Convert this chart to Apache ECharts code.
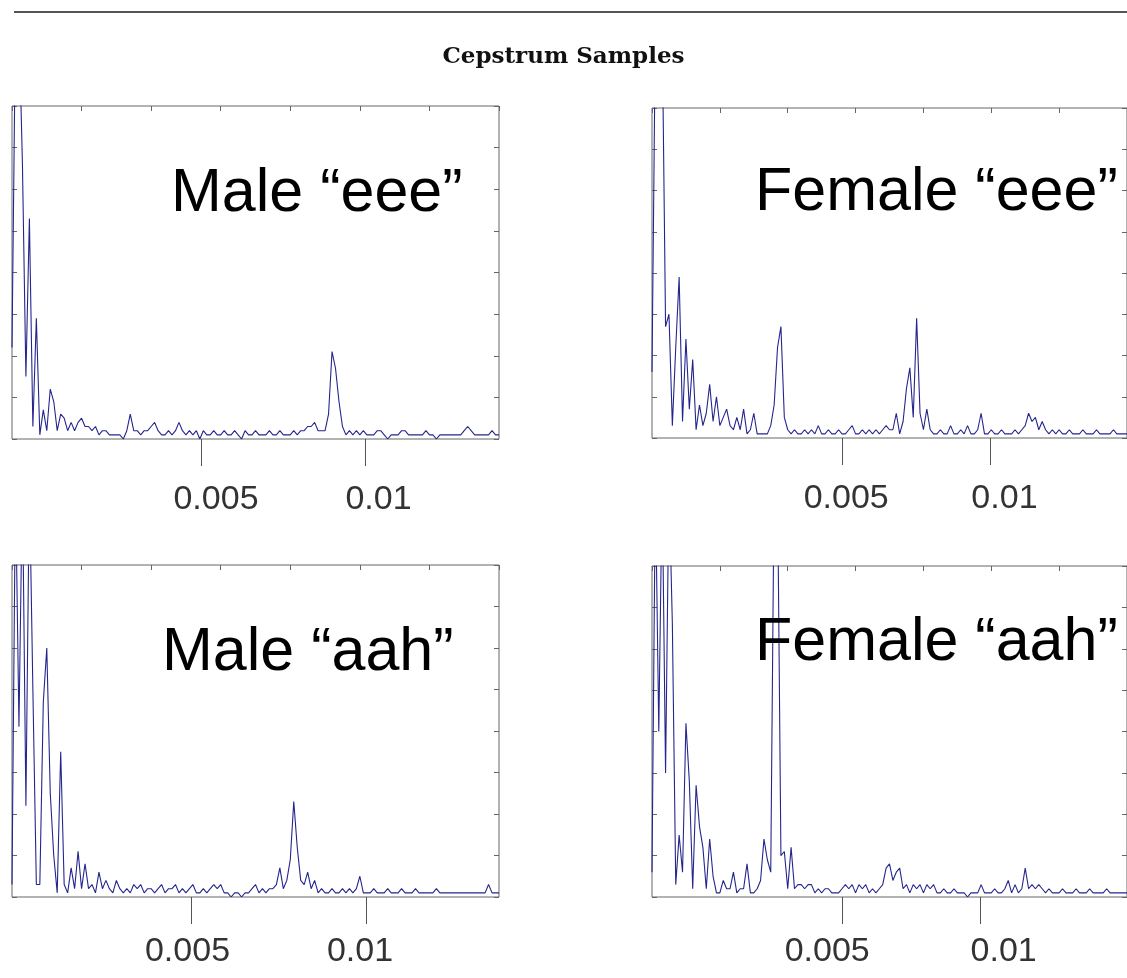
<!DOCTYPE html>
<html>
<head>
<meta charset="utf-8">
<script src="https://cdn.jsdelivr.net/npm/echarts@6/dist/echarts.min.js"></script>
<style>
  html, body { margin: 0; padding: 0; background: #fff; }
  #chart { width: 1127px; height: 978px; }
</style>
</head>
<body>
<div id="chart"></div>
<script>
// cepstrum magnitudes, 141 samples per panel, y axis 0..80 (8 divisions)
const maleEee = [
  22, 100, 100, 66, 15, 53, 3, 29, 1, 7,
  2, 12, 9, 2, 6, 5, 2, 4, 2, 4,
  5, 3, 3, 2, 3, 1, 2, 2, 1, 1,
  1, 1, 0, 2, 6, 2, 2, 1, 2, 2,
  3, 4, 2, 1, 1, 2, 1, 2, 4, 2,
  1, 2, 1, 2, 0, 2, 1, 1, 2, 1,
  1, 2, 1, 1, 2, 1, 0, 2, 1, 1,
  2, 1, 1, 1, 2, 1, 1, 2, 1, 1,
  1, 2, 1, 2, 2, 3, 3, 4, 2, 2,
  2, 6, 21, 17, 9, 3, 1, 2, 1, 2,
  1, 2, 1, 1, 1, 2, 2, 1, 0, 1,
  1, 1, 2, 2, 1, 1, 1, 1, 1, 2,
  1, 1, 0, 1, 1, 1, 1, 1, 1, 1,
  2, 3, 2, 1, 1, 1, 1, 1, 2, 1, 1
];
const femaleEee = [
  16, 100, 95, 100, 27, 30, 3, 22, 39, 4,
  24, 7, 19, 2, 8, 3, 6, 13, 4, 10,
  3, 5, 7, 3, 2, 5, 2, 7, 1, 2,
  6, 1, 1, 1, 1, 3, 8, 22, 27, 5,
  2, 1, 2, 1, 1, 2, 1, 2, 1, 3,
  1, 1, 2, 1, 1, 2, 1, 1, 2, 3,
  1, 1, 2, 1, 2, 1, 2, 1, 2, 3,
  2, 2, 6, 1, 4, 12, 17, 5, 29, 6,
  2, 7, 2, 1, 1, 2, 1, 1, 3, 1,
  1, 2, 1, 3, 1, 1, 2, 6, 1, 1,
  2, 1, 1, 2, 1, 1, 1, 2, 1, 2,
  3, 6, 4, 5, 2, 4, 2, 1, 2, 1,
  2, 1, 1, 2, 1, 1, 1, 2, 1, 1,
  1, 2, 1, 1, 1, 1, 2, 1, 1, 1, 1
];
const maleAah = [
  3, 100, 41, 100, 22, 100, 50, 3, 3, 47,
  60, 25, 10, 1, 35, 3, 1, 7, 2, 11,
  2, 8, 2, 3, 1, 6, 2, 4, 2, 1,
  4, 2, 1, 2, 1, 3, 2, 3, 1, 2,
  2, 1, 2, 3, 1, 2, 2, 3, 1, 2,
  1, 2, 3, 1, 1, 2, 1, 2, 3, 2,
  3, 1, 1, 0, 1, 1, 0, 1, 1, 2,
  3, 1, 2, 1, 2, 2, 3, 7, 2, 4,
  9, 23, 12, 4, 3, 6, 2, 4, 1, 2,
  1, 1, 2, 1, 1, 2, 1, 2, 1, 2,
  5, 1, 1, 1, 2, 1, 1, 1, 2, 1,
  1, 1, 2, 1, 1, 1, 2, 1, 1, 1,
  1, 1, 2, 1, 1, 1, 1, 1, 1, 1,
  1, 1, 1, 1, 1, 1, 1, 3, 1, 1, 1
];
const femaleAah = [
  6, 100, 40, 100, 30, 100, 66, 3, 15, 6,
  42, 28, 2, 27, 17, 12, 2, 14, 5, 1,
  1, 4, 2, 2, 6, 1, 2, 2, 8, 1,
  1, 2, 4, 14, 9, 6, 100, 100, 10, 11,
  2, 12, 2, 3, 3, 2, 3, 3, 1, 2,
  1, 2, 2, 1, 1, 1, 2, 3, 2, 3,
  1, 3, 2, 3, 1, 2, 1, 2, 3, 7,
  8, 4, 6, 7, 2, 3, 1, 3, 2, 3,
  1, 3, 2, 3, 1, 1, 2, 1, 1, 2,
  1, 1, 1, 0, 1, 1, 1, 3, 1, 1,
  1, 2, 1, 1, 2, 4, 1, 3, 1, 2,
  7, 2, 3, 2, 3, 2, 1, 2, 1, 1,
  1, 2, 1, 1, 1, 2, 1, 1, 1, 2,
  1, 1, 1, 1, 2, 1, 1, 1, 1, 1, 1
];
const panelNames = ['Male \u201ceee\u201d', 'Female \u201ceee\u201d', 'Male \u201caah\u201d', 'Female \u201caah\u201d'];
const quefTicks = [0.005, 0.01];
const quefLabels = ['0.005', '0.01'];

// layout of the four boxes (pixels) and the quefrency scale under each
const panels = [
  { data: maleEee, left: 12, top: 106, h: 333, xMin: -0.000745, xMax: 0.014058, margin: 44, shift: [15, 13], tx: 171, ty: 194 },
  { data: femaleEee, left: 652, top: 108, h: 330, xMin: -0.001414, xMax: 0.014605, margin: 44, shift: [4, 14], tx: 755, ty: 193 },
  { data: maleAah, left: 12, top: 565, h: 332, xMin: -0.000143, xMax: 0.013811, margin: 38, shift: [-4, -6], tx: 162, ty: 653 },
  { data: femaleAah, left: 652, top: 566, h: 331, xMin: -0.001866, xMax: 0.015282, margin: 38, shift: [-15, 23], tx: 755, ty: 643 }
];

const chart = echarts.init(document.getElementById('chart'));

function pad (s) {
  return s >= 0 ? [0, 0, 0, 2 * s] : [0, -2 * s, 0, 0];
}
const labelFont = { fontFamily: 'Liberation Sans', fontSize: 34, color: '#333' };
const tickIn = { inside: true, length: 5, lineStyle: { color: '#666' } };
const noLine = { show: false, onZero: false };

const grid = [];
const xAxis = [];
const yAxis = [];
const series = [];
const texts = [];

panels.forEach((p, k) => {
  grid.push({
    left: p.left, top: p.top, width: 487, height: p.h,
    show: true, borderColor: '#666', borderWidth: 1
  });
  // sample axis along the top edge, 7 divisions
  xAxis.push({
    gridIndex: k, type: 'value', position: 'top', min: 0, max: 140, interval: 20,
    axisLine: noLine, axisTick: tickIn, axisLabel: { show: false }, splitLine: { show: false }
  });
  // quefrency axis below the box
  xAxis.push({
    gridIndex: k, type: 'value', position: 'bottom', min: p.xMin, max: p.xMax,
    axisLine: noLine,
    axisTick: { customValues: quefTicks, length: 27, lineStyle: { color: '#555' } },
    axisLabel: {
      customValues: quefTicks,
      margin: p.margin,
      formatter: v => (v < 0.0075 ? '{a|' + quefLabels[0] + '}' : '{b|' + quefLabels[1] + '}'),
      rich: {
        a: Object.assign({ padding: pad(p.shift[0]) }, labelFont),
        b: Object.assign({ padding: pad(p.shift[1]) }, labelFont)
      }
    },
    splitLine: { show: false }
  });
  ['left', 'right'].forEach(pos => {
    yAxis.push({
      gridIndex: k, type: 'value', position: pos, min: 0, max: 80, interval: 10,
      axisLine: noLine, axisTick: tickIn, axisLabel: { show: false }, splitLine: { show: false }
    });
  });
  series.push({
    type: 'line', xAxisIndex: 2 * k, yAxisIndex: 2 * k,
    data: p.data.map((v, i) => [i, v]),
    symbol: 'none', clip: true,
    lineStyle: { color: '#25258e', width: 1.1 }
  });
  texts.push({
    type: 'text', z: 100,
    style: {
      text: panelNames[k], x: p.tx, y: p.ty,
      font: '61px "Liberation Sans"', fill: '#000', verticalAlign: 'middle'
    }
  });
});

chart.setOption({
  animation: false,
  backgroundColor: '#fff',
  title: {
    text: 'Cepstrum Samples', left: 'center', top: 46, padding: 0,
    textStyle: { fontFamily: 'DejaVu Serif', fontWeight: 'bold', fontSize: 23, color: '#111' }
  },
  graphic: [
    { type: 'line', shape: { x1: 14, y1: 12, x2: 1127, y2: 12 }, style: { stroke: '#555', lineWidth: 2 } }
  ].concat(texts),
  grid: grid,
  xAxis: xAxis,
  yAxis: yAxis,
  series: series
});
</script>
</body>
</html>
